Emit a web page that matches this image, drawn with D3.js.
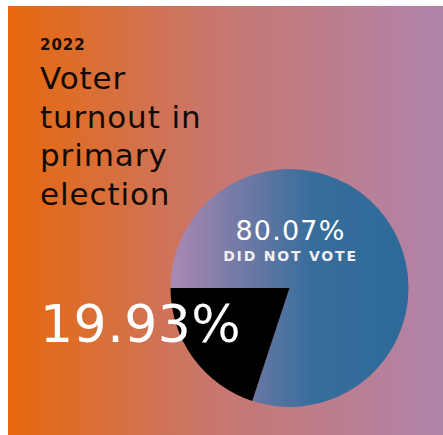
<!DOCTYPE html>
<html>
<head>
<meta charset="utf-8">
<script src="https://cdn.jsdelivr.net/npm/d3@7"></script>
<style>
  html, body { margin: 0; padding: 0; background: #fff; overflow: hidden; }
  svg { display: block; }
  text { font-family: "DejaVu Sans", sans-serif; }
</style>
</head>
<body>
<div id="chart"></div>
<script>
// data
const year = '2022'
const titleLines = ['Voter', 'turnout in', 'primary', 'election']
const categories = ['Did not vote', 'Voted']
const values = [80.07, 19.93]

const width = 443
const height = 435

// layout
const frame = { left: 8, top: 6 }
const cx = 289.5
const cy = 288
const radius = 119

const $svg = d3.select('#chart').append('svg')
  .attr('width', width)
  .attr('height', height)

const defs = $svg.append('defs')

const bgGrad = defs.append('linearGradient')
  .attr('id', 'bg-grad')
  .attr('x1', '0%').attr('x2', '100%')
  .attr('y1', '0%').attr('y2', '0%')
bgGrad.selectAll('stop')
  .data([
    { o: '0%', c: '#e8680b' },
    { o: '45%', c: '#c9766a' },
    { o: '100%', c: '#b084ab' }
  ])
  .join('stop')
  .attr('offset', d => d.o)
  .attr('stop-color', d => d.c)

// gradient lives in the pie group's coordinates (centred on the pie)
const pieGrad = defs.append('linearGradient')
  .attr('id', 'pie-grad')
  .attr('gradientUnits', 'userSpaceOnUse')
  .attr('x1', -radius).attr('x2', radius)
  .attr('y1', 0).attr('y2', 0)
pieGrad.selectAll('stop')
  .data([
    { o: '0%', c: '#ab89b3' },
    { o: '25%', c: '#7a7ca7' },
    { o: '60%', c: '#376d9b' },
    { o: '100%', c: '#2d6a99' }
  ])
  .join('stop')
  .attr('offset', d => d.o)
  .attr('stop-color', d => d.c)

// background panel
$svg.append('rect')
  .attr('x', frame.left)
  .attr('y', frame.top)
  .attr('width', width - frame.left)
  .attr('height', height - frame.top)
  .attr('fill', 'url(#bg-grad)')

// pie
const pie = d3.pie()
  .sort(null)
  .value(d => d.value)
  .startAngle(-Math.PI / 2)
  .endAngle(Math.PI * 1.5)

const arc = d3.arc()
  .innerRadius(0)
  .outerRadius(radius)

const scaleColor = d3.scaleOrdinal()
  .domain(categories)
  .range(['url(#pie-grad)', '#000000'])

const $pie = $svg.append('g')
  .attr('transform', `translate(${cx}, ${cy})`)

$pie.selectAll('path')
  .data(pie(values.map((v, i) => ({ key: categories[i], value: v }))))
  .join('path')
  .attr('d', arc)
  .attr('fill', d => scaleColor(d.data.key))

// titles
$svg.append('text')
  .attr('x', 40)
  .attr('y', 50)
  .style('font-size', '15px')
  .style('font-weight', 700)
  .style('letter-spacing', '1px')
  .attr('fill', '#1a0d06')
  .text(year)

$svg.append('g')
  .selectAll('text')
  .data(titleLines)
  .join('text')
  .attr('x', 40)
  .attr('y', (d, i) => 89 + i * 38.7)
  .style('font-size', '31px')
  .style('letter-spacing', '0.9px')
  .attr('fill', '#120a06')
  .text(d => d)

const fmt = d => d3.format('.2f')(d) + '%'

// did not vote label
$svg.append('text')
  .attr('x', cx + 1)
  .attr('y', 240)
  .attr('text-anchor', 'middle')
  .style('font-size', '27px')
  .style('letter-spacing', '1.2px')
  .attr('fill', '#ffffff')
  .text(fmt(values[0]))

$svg.append('text')
  .attr('x', cx + 1)
  .attr('y', 260.5)
  .attr('text-anchor', 'middle')
  .style('font-size', '14px')
  .style('font-weight', 700)
  .style('letter-spacing', '1.8px')
  .attr('fill', '#f4eef2')
  .text(categories[0].toUpperCase())

// voted label
$svg.append('text')
  .attr('x', 40)
  .attr('y', 341.5)
  .style('font-size', '52px')
  .style('letter-spacing', '0.5px')
  .attr('fill', '#ffffff')
  .text(fmt(values[1]))
</script>
</body>
</html>
